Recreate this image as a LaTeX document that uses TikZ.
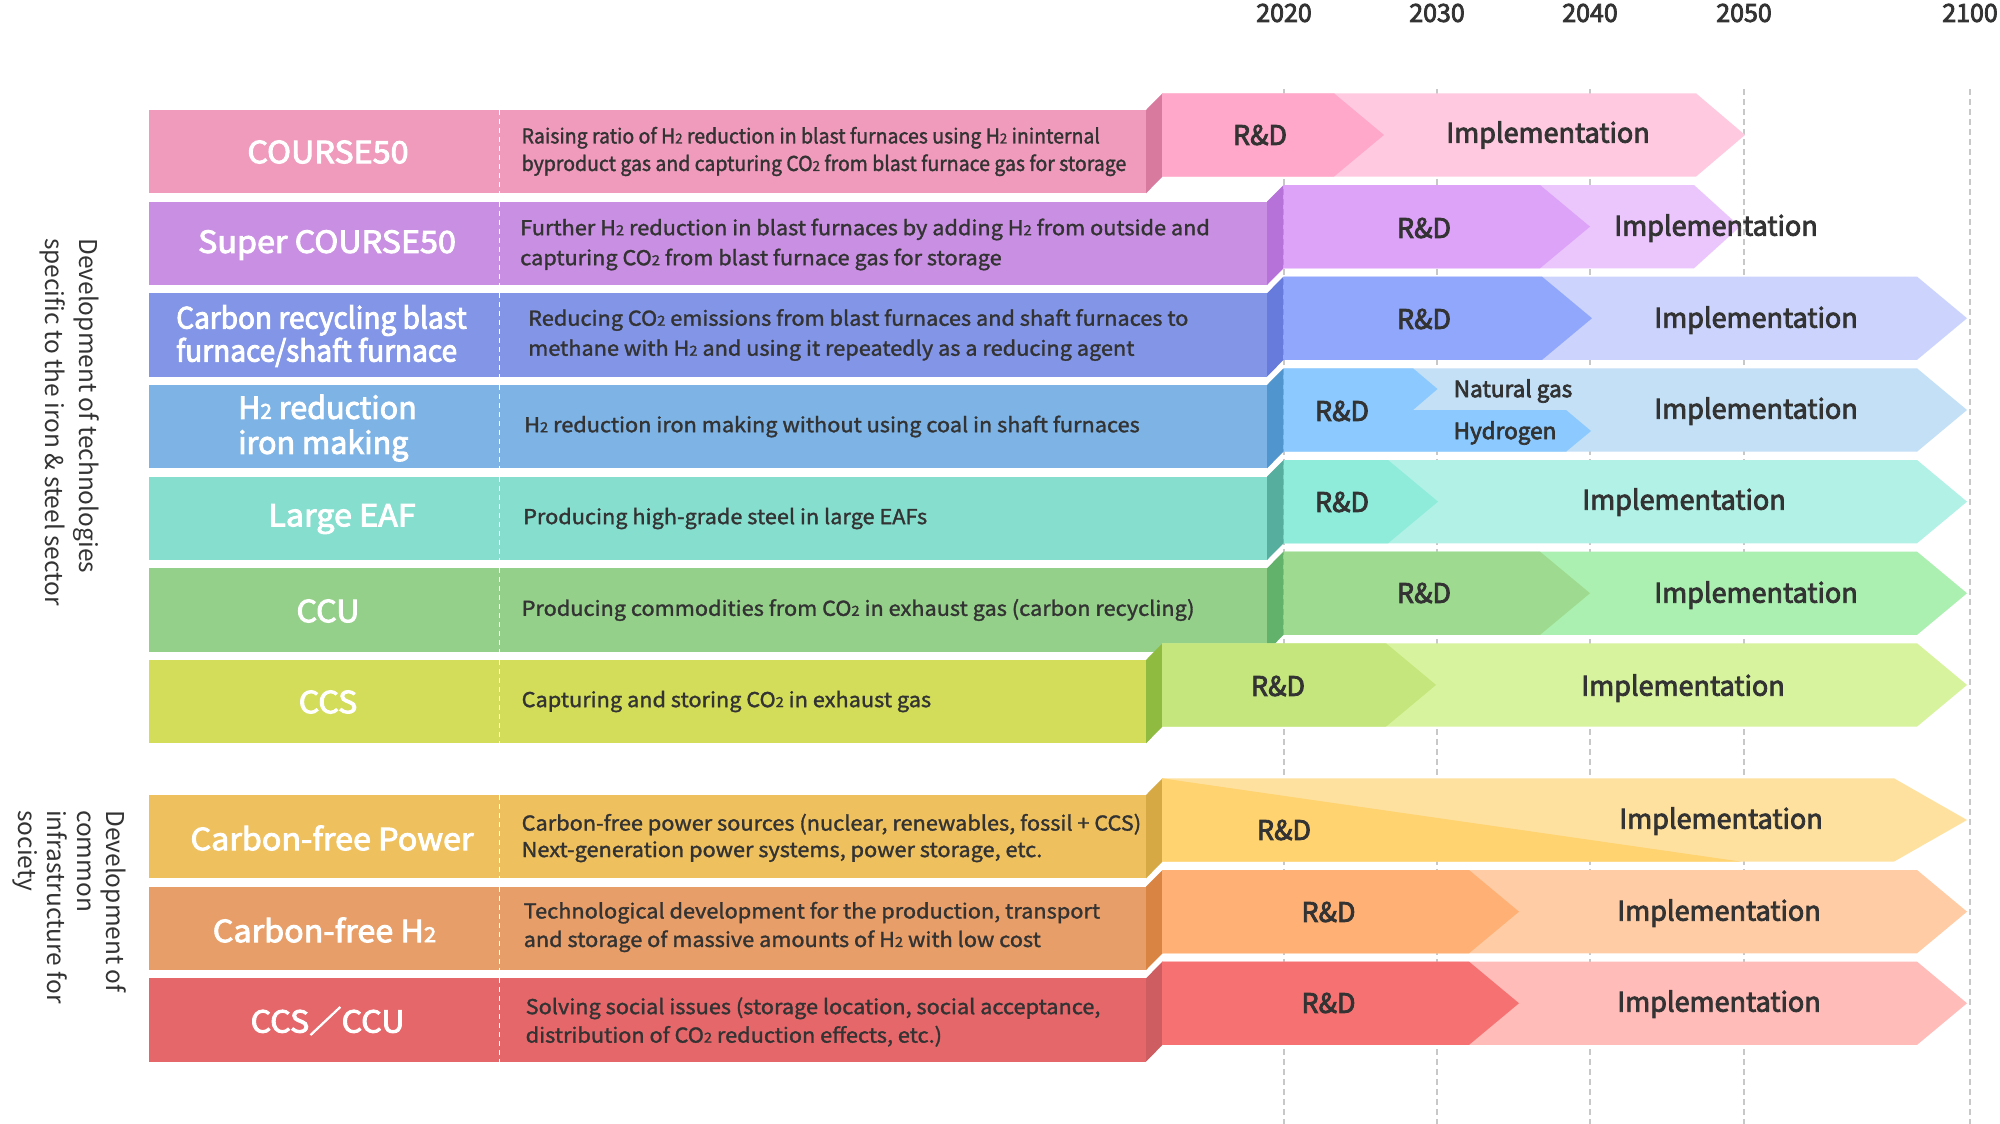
\documentclass[tikz,border=0pt]{standalone}
\usepackage{fontspec}
\usepackage{graphicx}
\setmainfont{Noto Sans CJK JP}
\newfontfamily\jpf{Noto Sans CJK JP}
\newfontfamily\jpm{Noto Sans CJK JP}[FakeBold=3]
\newfontfamily\jpmw{Noto Sans CJK JP}[FakeBold=3, FakeStretch=1.06]
\newfontfamily\jpmn{Noto Sans CJK JP}[FakeBold=3, FakeStretch=0.95]
\newfontfamily\jpd{Noto Sans CJK JP}[FakeStretch=1.06, FakeBold=1.5]
\newfontfamily\jpdn{Noto Sans CJK JP}[FakeStretch=0.95, FakeBold=1.5]
\newcommand\sbt{\scalebox{0.68}{2}}
\definecolor{txt}{HTML}{333333}
\definecolor{gridgray}{HTML}{C8C8C8}
\definecolor{b1}{HTML}{F09BBC}\definecolor{s1}{HTML}{D8799E}\definecolor{d1}{HTML}{FFA8C9}\definecolor{m1}{HTML}{FFCAE0}
\definecolor{b2}{HTML}{C98FE2}\definecolor{s2}{HTML}{B672D9}\definecolor{d2}{HTML}{DDA3F8}\definecolor{m2}{HTML}{EBC6FD}
\definecolor{b3}{HTML}{8295E6}\definecolor{s3}{HTML}{667BDC}\definecolor{d3}{HTML}{91A7FC}\definecolor{m3}{HTML}{CCD4FE}
\definecolor{b4}{HTML}{7DB3E5}\definecolor{s4}{HTML}{5095CD}\definecolor{d4}{HTML}{8BC9FE}\definecolor{m4}{HTML}{C4E0F6}
\definecolor{b5}{HTML}{86DECF}\definecolor{s5}{HTML}{55AE9E}\definecolor{d5}{HTML}{8FECDB}\definecolor{m5}{HTML}{B1F1E6}
\definecolor{b6}{HTML}{95D08A}\definecolor{s6}{HTML}{63B26B}\definecolor{d6}{HTML}{9EDB90}\definecolor{m6}{HTML}{ABF0B0}
\definecolor{b7}{HTML}{D3DD5A}\definecolor{s7}{HTML}{8FBB40}\definecolor{d7}{HTML}{C4E67C}\definecolor{m7}{HTML}{D8F39E}
\definecolor{b8}{HTML}{EFC15E}\definecolor{s8}{HTML}{D6A945}\definecolor{d8}{HTML}{FFD370}\definecolor{m8}{HTML}{FFE19F}
\definecolor{b9}{HTML}{E89E68}\definecolor{s9}{HTML}{DA8443}\definecolor{d9}{HTML}{FFB175}\definecolor{m9}{HTML}{FFCCA5}
\definecolor{b10}{HTML}{E5676A}\definecolor{s10}{HTML}{CD5D61}\definecolor{d10}{HTML}{F67272}\definecolor{m10}{HTML}{FFBCB9}
\tikzset{
  gridline/.style={draw=gridgray, line width=1.3pt, dash pattern=on 6pt off 4pt},
  divider/.style={draw=white, line width=1.2pt, dash pattern=on 5pt off 4pt},
  ttl/.style={text=white, font=\jpmw\fontsize{30.5}{34}\selectfont, inner sep=0pt},
  desc/.style={text=txt, font=\jpd\fontsize{20.5}{28.5}\selectfont, align=left, anchor=west, inner sep=0pt},
  lab/.style={text=txt, font=\jpm\fontsize{27}{30}\selectfont, inner sep=0pt},
  sublab/.style={text=txt, font=\jpm\fontsize{22.5}{24}\selectfont, inner sep=0pt},
  yr/.style={text=txt, font=\jpm\fontsize{25}{26}\selectfont, inner sep=0pt},
  grp/.style={text=txt, font=\jpf\fontsize{24.5}{#1}\selectfont, align=left, rotate=-90, anchor=north west, inner sep=0pt},
}
% left box: #1 box top, #2 right x, #3 box colour, #4 side colour
\newcommand\rowbox[4]{%
  \fill[#3] (149,#1) rectangle (#2,#1+83.3);
  \fill[#4] (#2,#1) -- (#2+16.5,#1-16.7) -- (#2+16.5,#1+66.6) -- (#2,#1+83.3) -- cycle;
  \draw[divider] (499.5,#1) -- (499.5,#1+83.3);
}
% chevrons: #1 bar top, #2 start, #3 notch, #4 end, #5 tip depth, #6 R&D colour, #7 impl colour
\newcommand\chev[7]{%
  \fill[#7] (#2,#1) -- (#4,#1) -- (#4+#5,#1+41.65) -- (#4,#1+83.3) -- (#2,#1+83.3) -- cycle;
  \fill[#6] (#2,#1) -- (#3,#1) -- (#3+50,#1+41.65) -- (#3,#1+83.3) -- (#2,#1+83.3) -- cycle;
}
\begin{document}
\begin{tikzpicture}[x=1pt,y=-1pt]
\useasboundingbox (0,0) rectangle (2000,1124);
\fill[white] (0,0) rectangle (2000,1124);

% years and grid lines
\node[yr] (y2020) at (1284,13) {2020};
\node[yr] (y2030) at (1437,13) {2030};
\node[yr] (y2040) at (1590,13) {2040};
\node[yr] (y2050) at (1744,13) {2050};
\node[yr] (y2100) at (1970,13) {2100};
\foreach \n in {y2020,y2030,y2040,y2050,y2100}
  \draw[gridline] (\n.south |- 0,89) -- (\n.south |- 0,1124);

% group labels
\node[grp=34] (g1) at (100,238) {Development of technologies\\specific to the iron \& steel sector};
\node[grp=29.5] (g2) at (127,810) {Development of\\common\\infrastructure for\\society};

% left boxes
\rowbox{110}{1146}{b1}{s1}
\rowbox{201.7}{1267}{b2}{s2}
\rowbox{293.3}{1267}{b3}{s3}
\rowbox{385}{1267}{b4}{s4}
\rowbox{476.7}{1267}{b5}{s5}
\rowbox{568.3}{1267}{b6}{s6}
\rowbox{660}{1146}{b7}{s7}
\rowbox{795}{1146}{b8}{s8}
\rowbox{886.7}{1146}{b9}{s9}
\rowbox{978.3}{1146}{b10}{s10}

% timeline bars
\chev{93.3}{1162}{1334}{1696}{49}{d1}{m1}
\chev{185}{1284}{1540}{1694}{46}{d2}{m2}
\chev{276.6}{1284}{1542}{1917}{50}{d3}{m3}
% row 4 (split)
\fill[m4] (1284,368.3) -- (1917,368.3) -- (1967,410) -- (1917,451.7) -- (1284,451.7) -- cycle;
\fill[d4] (1284,368.3) -- (1413,368.3) -- (1437.5,389) -- (1413,410) -- (1566,410) -- (1591,431) -- (1566,451.7) -- (1284,451.7) -- cycle;
\chev{460}{1284}{1388}{1917}{50}{d5}{m5}
\chev{551.6}{1284}{1540}{1917}{50}{d6}{m6}
\chev{643.3}{1162}{1386}{1917}{50}{d7}{m7}
% row 8 (diagonal split)
\fill[m8] (1162,778.3) -- (1894,778.3) -- (1967,820) -- (1894,861.6) -- (1162,861.6) -- cycle;
\fill[d8] (1162,778.3) -- (1741,861.6) -- (1162,861.6) -- cycle;
\chev{870}{1162}{1469}{1917}{50}{d9}{m9}
\chev{961.6}{1162}{1469}{1917}{50}{d10}{m10}

% titles
\node[ttl] (t1) at (328,152) {COURSE50};
\node[ttl] (t2) at (327,245) {Super COURSE50};
\node[ttl, font=\jpmn\fontsize{29.5}{33}\selectfont, align=left, anchor=west] (t3) at (176,336) {Carbon recycling blast\\furnace/shaft furnace};
\node[ttl, font=\jpm\fontsize{30.5}{35}\selectfont, align=left, anchor=west] (t4) at (238,428) {H\sbt{} reduction\\iron making};
\node[ttl] (t5) at (342,519) {Large EAF};
\node[ttl] (t6) at (328,611) {CCU};
\node[ttl] (t7) at (328,702) {CCS};
\node[ttl] (t8) at (332,838) {Carbon-free Power};
\node[ttl] (t9) at (324.5,930) {Carbon-free H\sbt};
\node[ttl] (t10) at (327.6,1021) {CCS／CCU};

% descriptions
\node[desc, font=\jpdn\fontsize{20.5}{27.5}\selectfont] (e1) at (521.5,151.5) {Raising ratio of H\sbt{} reduction in blast furnaces using H\sbt{} ininternal\\byproduct gas and capturing CO\sbt{} from blast furnace gas for storage};
\node[desc, font=\jpd\fontsize{20.5}{30}\selectfont] (e2) at (520,244.5) {Further H\sbt{} reduction in blast furnaces by adding H\sbt{} from outside and\\capturing CO\sbt{} from blast furnace gas for storage};
\node[desc, font=\jpd\fontsize{20.5}{30}\selectfont] (e3) at (528,335) {Reducing CO\sbt{} emissions from blast furnaces and shaft furnaces to\\methane with H\sbt{} and using it repeatedly as a reducing agent};
\node[desc] (e4) at (524,426.5) {H\sbt{} reduction iron making without using coal in shaft furnaces};
\node[desc] (e5) at (523,518.5) {Producing high-grade steel in large EAFs};
\node[desc] (e6) at (521.5,610) {Producing commodities from CO\sbt{} in exhaust gas (carbon recycling)};
\node[desc] (e7) at (521.5,701.5) {Capturing and storing CO\sbt{} in exhaust gas};
\node[desc, font=\jpd\fontsize{20.5}{26.5}\selectfont] (e8) at (521.5,838) {Carbon-free power sources (nuclear, renewables, fossil + CCS)\\Next-generation power systems, power storage, etc.};
\node[desc] (e9) at (523.5,927) {Technological development for the production, transport\\and storage of massive amounts of H\sbt{} with low cost};
\node[desc] (e10) at (525.5,1022) {Solving social issues (storage location, social acceptance,\\distribution of CO\sbt{} reduction effects, etc.)};

% timeline labels
\node[lab] (r1) at (1260,135) {R\&D};
\node[lab] (i1) at (1548,135) {Implementation};
\node[lab] (r2) at (1424,228) {R\&D};
\node[lab] (i2) at (1716,228) {Implementation};
\node[lab] (r3) at (1424,319) {R\&D};
\node[lab] (i3) at (1756,320) {Implementation};
\node[lab] (r4) at (1342,411) {R\&D};
\node[sublab] (ng) at (1513,391) {Natural gas};
\node[sublab] (hy) at (1505,433) {Hydrogen};
\node[lab] (i4) at (1756,411) {Implementation};
\node[lab] (r5) at (1342,502) {R\&D};
\node[lab] (i5) at (1684,502) {Implementation};
\node[lab] (r6) at (1424,593) {R\&D};
\node[lab] (i6) at (1756,595) {Implementation};
\node[lab] (r7) at (1278,686) {R\&D};
\node[lab] (i7) at (1683,688) {Implementation};
\node[lab] (r8) at (1284,830) {R\&D};
\node[lab] (i8) at (1721,821) {Implementation};
\node[lab] (r9) at (1328.5,912) {R\&D};
\node[lab] (i9) at (1719,913) {Implementation};
\node[lab] (r10) at (1328.5,1003) {R\&D};
\node[lab] (i10) at (1719,1004) {Implementation};
\end{tikzpicture}
\end{document}
